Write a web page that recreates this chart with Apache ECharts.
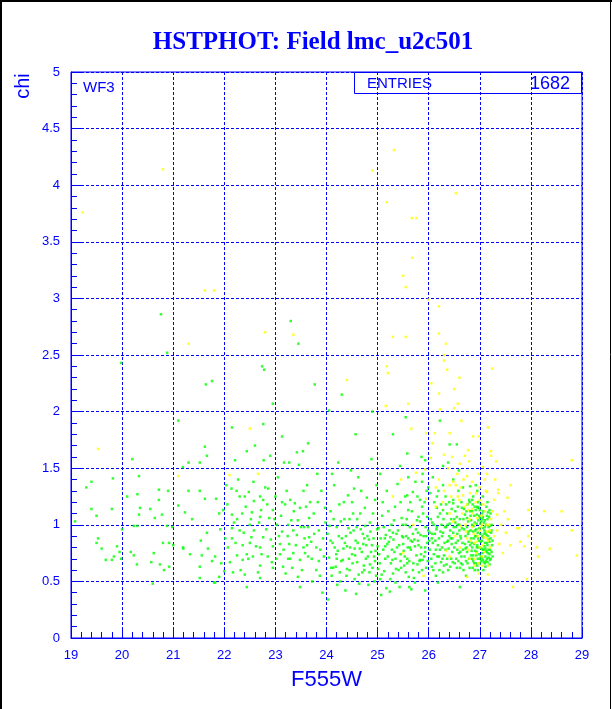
<!DOCTYPE html>
<html><head><meta charset="utf-8">
<script src="https://cdn.jsdelivr.net/npm/echarts@6/dist/echarts.min.js"></script>
<style>html,body{margin:0;padding:0;background:#fff;}#c{width:612px;height:709px;}</style>
</head><body><div id="c"></div>
<script>
// ---- data ----
const titleText = 'HSTPHOT: Field lmc_u2c501';
const xName = 'F555W';
const yName = 'chi';
const chipLabel = 'WF3';
const statsLabel = 'ENTRIES';
const statsValue = '1682';

const greenA = [ // 19-22
[19.08,1.03],[19.3,1.33],[19.4,1.38],[19.4,1.14],[19.5,1.08],[19.53,0.88],[19.5,0.84],[19.6,0.79],[19.68,0.69],[19.8,0.69],[19.82,1.41],[19.8,1.14],[19.84,0.72],[19.9,0.81],[19.95,0.76],[19.98,0.7],[19.98,2.43],[20.0,0.96],[20.1,1.25],[20.17,0.76],[20.2,1.58],[20.23,0.99],[20.23,0.73],[20.29,0.65],[20.3,0.99],[20.3,1.27],[20.33,1.43],[20.33,1.09],[20.35,1.15],[20.55,1.14],[20.57,0.67],[20.6,0.48],[20.62,0.75],[20.64,1.06],[20.72,1.22],[20.72,1.31],[20.74,0.65],[20.76,2.86],[20.78,1.09],[20.8,0.84],[20.82,0.6],[20.88,2.52],[20.88,0.99],[20.9,1.3],[20.92,0.63],[20.92,0.84],[20.98,0.98],[21.0,0.82],[21.1,1.17],[21.1,1.92],[21.19,0.8],[21.19,1.51],[21.2,0.79],[21.23,1.11],[21.3,1.55],[21.3,1.3],[21.33,0.74],[21.37,1.05],[21.52,0.63],[21.52,1.55],[21.52,1.3],[21.52,0.53],[21.54,0.86],[21.56,0.73],[21.62,1.69],[21.62,1.23],[21.64,2.24],[21.66,1.61],[21.66,0.93],[21.68,0.79],[21.76,0.68],[21.76,2.27],[21.8,0.49],[21.82,0.72],[21.82,0.49],[21.84,1.23],[21.9,0.54],[21.9,1.1],[21.92,0.96],[21.94,0.66],[21.98,1.13]
];
const greenB = [ // 22-24
[22.0,0.59],[22.04,1.35],[22.07,0.8],[22.14,1.32],[22.15,1.86],[22.15,1.09],[22.15,0.88],[22.15,0.97],[22.17,0.58],[22.21,1.57],[22.24,1.3],[22.25,0.73],[22.3,1.25],[22.3,0.95],[22.35,1.1],[22.36,0.82],[22.36,0.69],[22.4,1.25],[22.4,0.56],[22.44,1.65],[22.44,0.74],[22.44,0.45],[22.48,1.29],[22.5,0.84],[22.52,1.05],[22.54,1.11],[22.56,0.72],[22.58,1.21],[22.6,1.7],[22.7,1.25],[22.7,1.07],[22.7,0.8],[22.7,0.64],[22.7,0.53],[22.72,1.13],[22.74,2.4],[22.76,1.89],[22.76,1.22],[22.76,0.89],[22.77,1.57],[22.78,2.37],[22.8,1.33],[22.86,1.32],[22.88,1.06],[22.9,1.61],[22.93,0.67],[22.95,2.07],[22.95,1.13],[22.95,0.81],[22.95,0.62],[23.09,0.83],[23.09,0.74],[23.13,1.78],[23.13,1.2],[23.13,0.94],[23.15,0.63],[23.17,1.55],[23.25,1.0],[23.27,1.55],[23.27,0.83],[23.29,1.22],[23.29,0.7],[23.3,2.8],[23.31,1.04],[23.35,0.95],[23.35,0.75],[23.38,1.19],[23.42,1.64],[23.42,0.91],[23.44,1.04],[23.44,0.54],[23.45,2.6],[23.46,1.53],[23.48,1.15],[23.48,0.69],[23.48,0.45],[23.54,1.65],[23.56,0.98],[23.58,0.75],[23.6,1.16],[23.64,1.72],[23.64,0.98],[23.64,0.72],[23.66,0.89],[23.68,1.2],[23.7,0.85],[23.72,0.5],[23.75,1.1],[23.77,2.24],[23.8,0.6],[23.82,1.45],[23.85,0.95],[23.88,0.78],[23.9,1.3],[23.92,0.4],[23.95,0.72],[23.98,1.02]
];
const greenE = [ // 22-24 extra
[22.02,0.88],[22.06,1.18],[22.11,0.67],[22.19,1.02],[22.22,0.84],[22.27,1.4],[22.32,0.6],[22.38,0.93],[22.42,1.16],[22.47,0.7],[22.53,0.89],[22.57,1.38],[22.62,0.81],[22.66,0.58],[22.68,1.02],[22.73,0.74],[22.82,0.96],[22.84,1.18],[22.91,0.87],[22.98,1.05],[23.02,0.7],[23.05,1.42],[23.07,0.9],[23.11,1.08],[23.16,0.78],[23.2,0.57],[23.22,1.3],[23.24,0.9],[23.33,0.62],[23.36,1.12],[23.4,0.82],[23.5,0.98],[23.52,0.6],[23.55,1.3],[23.62,0.82],[23.66,1.06],[23.71,0.7],[23.76,0.92],[23.83,1.2],[23.87,0.55],[23.93,0.88],[23.97,1.15],[23.03,1.0],[23.19,1.18],[23.57,0.88],[22.58,0.95],[22.25,1.05],[23.8,0.8],[23.62,1.35],[23.0,1.25]
];
const greenC = [ // 24-26
[24.02,0.92],[24.05,0.71],[24.05,2.01],[24.08,1.12],[24.1,0.55],[24.12,0.84],[24.15,1.35],[24.18,0.63],[24.2,0.98],[24.22,0.77],[24.25,1.18],[24.27,0.5],[24.3,0.88],[24.32,0.69],[24.35,1.05],[24.37,0.42],[24.4,0.81],[24.42,1.26],[24.45,0.6],[24.47,0.93],[24.5,0.74],[24.52,1.1],[24.55,0.52],[24.57,0.86],[24.6,0.67],[24.62,1.42],[24.65,0.79],[24.67,0.96],[24.7,0.58],[24.72,0.83],[24.75,1.15],[24.77,0.7],[24.8,0.9],[24.82,0.47],[24.85,1.02],[24.87,0.76],[24.9,0.62],[24.92,0.88],[24.95,1.22],[24.97,0.55],[25.0,0.81],[25.02,0.97],[25.04,0.66],[25.07,0.38],[25.09,1.08],[25.11,0.78],[25.13,0.59],[25.16,0.91],[25.18,1.3],[25.2,0.72],[25.22,0.85],[25.25,0.52],[25.27,1.0],[25.29,0.69],[25.31,0.87],[25.34,1.16],[25.36,0.61],[25.38,0.8],[25.4,0.95],[25.43,0.45],[25.45,0.74],[25.47,1.06],[25.5,0.83],[25.52,0.64],[25.54,1.25],[25.56,0.9],[25.58,0.7],[25.61,0.54],[25.63,0.98],[25.65,0.78],[25.67,1.12],[25.7,0.66],[25.72,0.87],[25.74,1.38],[25.76,0.73],[25.79,0.93],[25.81,0.58],[25.83,1.03],[25.85,0.8],[25.88,0.69],[25.9,0.9],[25.92,1.2],[25.95,0.62],[25.97,0.84],[24.03,0.34],[24.23,1.55],[24.48,1.48],[24.58,0.39],[24.88,1.58],[25.05,1.45],[25.24,0.41],[25.44,1.52],[25.66,0.43],[25.86,1.6],[24.13,0.62],[24.33,0.79],[24.53,0.95],[24.73,0.64],[24.93,0.72],[25.14,0.88],[25.33,0.76],[25.53,0.72],[25.73,0.81],[25.93,0.76],[24.08,0.86],[24.28,1.03],[24.63,0.56],[24.83,0.87],[25.01,0.61],[25.21,1.12],[25.41,0.6],[25.6,0.88],[25.8,1.07],[25.99,0.95],[24.44,0.7],[24.68,1.3],[25.12,0.98],[25.48,0.9],[25.82,0.68],[24.16,0.8],[24.4,0.61],[24.78,0.82],[25.26,0.66],[25.69,0.92],[24.57,1.8],[24.9,2.0],[25.3,1.8],[25.55,1.95],[24.3,2.15],
[25.58,1.63],[25.93,1.57],[25.5,0.89],[25.79,0.86],[25.93,0.8],[25.63,0.8],[25.83,0.69],[25.69,0.6],[25.58,0.66],[25.73,0.49],[25.93,0.42],[25.83,1.22],[25.69,1.29],[25.58,1.26],[25.87,1.16],[25.97,1.07],[25.77,1.04],[25.6,1.13],[25.99,1.33],[25.87,1.38],[25.6,1.42]
];
const greenF = [ // 24-26 extra
[24.06,0.99],[24.09,0.62],[24.14,1.05],[24.19,0.74],[24.21,0.47],[24.24,0.9],[24.29,0.68],[24.34,1.2],[24.36,0.84],[24.39,0.55],[24.43,0.97],[24.46,0.8],[24.51,0.66],[24.54,1.32],[24.56,0.73],[24.59,0.98],[24.61,0.84],[24.64,0.48],[24.66,1.1],[24.69,0.76],[24.71,0.92],[24.74,0.6],[24.76,0.99],[24.79,1.24],[24.81,0.72],[24.84,0.58],[24.86,0.94],[24.89,0.82],[24.91,1.1],[24.94,0.5],[24.96,0.77],[24.99,0.96],[25.03,0.74],[25.06,0.88],[25.08,0.56],[25.1,1.2],[25.15,0.7],[25.17,0.44],[25.19,0.83],[25.23,0.95],[25.28,0.78],[25.3,0.57],[25.32,1.04],[25.35,0.7],[25.37,0.92],[25.39,1.36],[25.42,0.82],[25.46,0.62],[25.49,1.0],[25.51,0.77],[25.55,0.58],[25.57,1.05],[25.59,0.8],[25.62,0.68],[25.64,1.2],[25.68,0.85],[25.71,0.53],[25.75,0.96],[25.78,0.65],[25.8,0.82],[25.84,0.91],[25.87,0.6],[25.89,1.1],[25.91,0.72],[25.94,0.98],[25.96,1.3],[25.98,0.68],[24.11,1.45],[24.5,1.2],[24.98,1.35],[25.45,1.2],[25.88,1.45],[24.26,0.58],[24.6,1.05],[25.05,0.52],[25.35,0.49],[25.62,0.45],[25.78,1.25]
];
const greenD = [ // 26-27.3
[26.41,1.71],[26.55,1.71],[26.22,1.92],[26.28,1.52],[26.38,1.55],[26.48,1.4],[26.59,1.48],[26.67,1.33],[26.81,1.34],[26.85,1.22],[26.9,1.16],[26.96,1.15],[27.04,1.1],[27.1,1.04],[27.16,1.11],[27.0,1.06],[26.94,1.01],[26.83,1.04],[26.71,1.09],[26.75,0.98],[26.87,0.94],[26.96,0.93],[27.06,0.89],[27.14,0.84],[27.06,0.78],[27.16,0.75],[27.04,0.71],[27.2,0.69],[27.1,0.66],[26.94,0.76],[26.85,0.8],[26.75,0.76],[26.57,0.86],[26.48,0.93],[26.38,0.86],[26.28,0.93],[26.16,0.98],[26.02,0.93],[26.08,0.84],[26.22,0.78],[26.36,0.7],[26.51,0.66],[26.61,0.62],[26.28,0.58],[26.06,0.63],[26.18,0.49],[26.61,0.45],[26.08,1.42],[26.16,1.25],[26.28,1.13],[26.18,1.07],[26.41,1.01],[26.57,1.0],[26.55,1.07],[26.65,1.15],[26.48,1.19],
[26.85,0.7],[26.88,0.88],[26.9,1.02],[26.92,0.66],[26.95,0.82],[26.97,1.2],[26.99,0.74],[27.01,0.92],[27.03,0.68],[27.05,1.05],[27.07,0.78],[27.09,0.95],[27.11,0.72],[27.13,1.16],[27.15,0.82],[27.17,0.98],[27.19,0.65],[27.21,0.88],[27.23,0.76],[26.82,0.95],[26.86,1.18],[26.91,0.77],[26.94,1.09],[26.98,0.86],[27.02,0.72],[27.06,0.97],[27.1,0.84],[27.14,0.7],[27.18,1.07],[27.22,0.93],[26.8,0.62],[26.84,0.84],[26.87,1.25],[26.93,0.9],[26.96,0.7],[27.0,1.13],[27.04,0.86],[27.08,0.67],[27.12,1.0],[27.16,0.9],[27.2,0.78],[26.7,0.72],[26.72,0.9],[26.74,1.12],[26.76,0.66],[26.78,0.85],[26.6,0.95],[26.62,0.76],[26.64,1.2],[26.66,0.84],[26.68,0.6],[26.5,0.8],[26.52,1.12],[26.54,0.7],[26.56,0.92],[26.58,1.3],[26.4,0.9],[26.42,0.63],[26.44,1.05],[26.46,0.76],[26.48,1.22],[26.3,0.73],[26.32,0.98],[26.34,1.18],[26.36,0.85],[26.38,0.6],[26.2,0.88],[26.22,1.1],[26.24,0.67],[26.26,0.8],[26.28,1.35],[26.1,0.74],[26.12,0.92],[26.14,0.55],[26.16,1.15],[26.18,0.82],[26.01,0.86],[26.03,1.28],[26.05,0.7],[26.07,1.02],[26.09,0.6],
[26.89,0.83],[26.93,0.96],[27.0,0.8],[27.08,1.02],[27.13,0.76],[27.19,0.85],[26.83,0.73],[26.97,1.04],[27.05,0.9],[27.11,0.93],[27.17,0.71],[27.24,0.82],[26.77,1.03],[26.69,0.96],[26.63,0.88],[26.53,0.98],[26.45,0.83],[26.33,0.78],[26.25,1.0],[26.13,0.86],[27.02,1.18],[26.9,0.6],[27.15,1.2],[27.07,0.6],[26.79,1.22],[26.95,1.3],[26.73,0.55],[27.25,0.72]
];
const greenG = [ // 26-27.3 extra
[26.02,0.78],[26.04,1.05],[26.06,0.88],[26.11,1.2],[26.13,0.66],[26.15,0.96],[26.17,0.72],[26.19,1.3],[26.21,0.6],[26.23,0.94],[26.27,0.7],[26.29,1.05],[26.31,0.84],[26.33,1.25],[26.35,0.65],[26.37,1.0],[26.39,0.79],[26.43,0.88],[26.45,1.14],[26.47,0.67],[26.49,0.98],[26.53,0.84],[26.55,0.62],[26.57,1.16],[26.59,0.75],[26.61,1.05],[26.63,0.66],[26.65,0.97],[26.67,0.78],[26.69,1.14],[26.71,0.83],[26.73,0.68],[26.75,1.06],[26.77,0.92],[26.79,0.7],[26.81,1.12],[26.83,0.88],[26.85,1.0],[26.87,0.68],[26.89,1.08],[26.91,0.9],[26.93,0.73],[26.95,1.16],[26.97,0.8],[26.99,0.97],[27.01,0.7],[27.03,1.03],[27.05,0.75],[27.07,1.12],[27.09,0.81],[27.11,0.63],[27.13,0.91],[27.15,1.05],[27.17,0.78],[27.19,1.13],[27.21,0.7],[27.23,0.95],[27.25,0.86],[26.86,0.62],[26.96,0.6],[27.06,1.25],[26.92,1.35],[27.0,0.66],[27.12,0.77],[27.18,0.94],[26.8,1.2],[26.74,0.8],[26.62,0.9],[26.5,1.05],[26.4,1.2],[26.26,0.9],[26.1,1.0],[26.2,0.72],[26.34,0.98],[26.46,0.88],[26.58,0.68]
];
const greenH = [ // 26.4-27.3 core, more
[26.84,0.77],[26.88,0.99],[26.92,1.13],[26.97,0.88],[27.01,1.01],[27.06,0.69],[27.1,0.98],[27.14,1.08],[27.19,0.74],[27.23,1.0],[26.82,1.08],[26.87,0.73],[26.91,0.95],[26.95,0.64],[26.99,1.08],[27.03,0.79],[27.08,0.92],[27.12,0.68],[27.17,0.87],[27.21,1.1],[26.81,0.82],[26.85,1.12],[26.89,0.66],[26.94,0.8],[26.98,1.15],[27.02,0.85],[27.06,1.07],[27.11,0.79],[27.15,0.67],[27.2,0.99],[26.6,1.0],[26.64,0.72],[26.68,1.05],[26.72,0.79],[26.76,1.18],[26.78,0.94],[26.66,0.65],[26.56,0.78],[26.52,1.02],[26.44,0.7],[26.42,0.95],[26.36,1.1],[26.3,0.64],[26.24,1.18],[26.14,0.78],[26.07,0.92],[24.2,0.7],[24.38,0.9],[24.55,0.79],[24.74,0.88],[24.95,0.68],[25.15,0.81],[25.3,0.93],[25.45,0.68],[25.65,0.86],[25.85,0.74],[24.45,1.05],[24.85,0.65],[25.25,0.89],[25.55,1.0],[25.95,0.9],[23.25,0.7],[23.55,0.8],[23.85,0.68],[22.85,0.72],[22.5,1.0]
];
const yellowPts = [
[19.23,3.76],[19.53,1.67],[20.8,4.14],[21.1,1.43],[21.3,2.6],[21.62,3.07],[21.8,3.07],[22.1,1.44],[22.5,1.85],[22.66,1.45],[22.8,2.7],[23.35,2.68],[24.4,2.28],[24.9,4.13],[25.32,4.31],[25.18,3.85],[25.67,3.71],[25.76,3.71],[26.53,3.93],[25.68,3.36],[25.5,3.2],[25.55,3.1],[26.0,2.99],[26.2,2.93],[25.3,2.66],[25.55,2.66],[26.34,2.6],[26.3,2.5],[26.3,2.45],[25.18,2.4],[25.2,2.34],[27.24,2.38],[26.36,2.37],[26.6,2.3],[26.05,2.25],[26.5,2.2],[26.2,2.16],[26.64,1.92],[26.5,2.03],[25.16,2.05],[26.2,2.69],
[28.8,1.57],[28.6,1.12],[28.26,1.12],[28.8,0.95],[28.9,0.73],[27.92,0.52],[27.65,0.45],[28.12,0.8],[28.37,0.79],[28.14,0.72],[27.87,0.81],[27.79,0.85],[27.95,0.9],[27.73,0.97],[27.77,0.97],[27.6,1.35],[27.54,1.24],[27.48,1.12],[27.95,1.13],[27.34,0.95],[27.38,0.83],[27.51,0.93],[27.6,0.82],[27.34,1.09],[27.36,1.28],[27.32,1.56],[27.16,1.86],[27.22,1.65],[27.22,1.61],[26.98,1.78],[26.87,1.78],[26.77,1.66],[26.79,1.56],[26.71,1.61],[27.14,1.45],[27.06,1.51],[27.0,1.33],[26.93,1.28],[26.75,1.43],[26.61,1.54],[26.41,1.81],[26.22,2.02],[26.12,1.81],[26.08,1.72],[25.95,1.81],[25.66,1.85],[26.04,1.59],[26.3,1.62],[26.38,1.5],[26.48,1.38],[26.53,1.35],[26.63,1.33],[26.57,1.25],[26.67,1.26],[26.81,1.28],[26.75,1.18],[26.85,1.14],[26.77,1.13],[27.0,1.22],[27.14,1.29],[27.36,1.31],[27.28,1.22],[26.14,1.33],[25.95,1.23],[26.14,1.16],[25.75,1.46],[25.93,1.49],[25.46,1.4],[26.41,1.35],[26.28,1.2],[26.41,1.1],[26.48,1.03],[26.63,0.99],[26.73,0.94],[26.85,0.98],[27.04,1.0],[27.14,1.0],[27.2,0.95],[27.08,0.89],[27.16,0.86],[27.2,0.8],[27.0,0.8],[26.9,0.84],[26.94,0.75],[26.77,0.78],[26.61,0.8],[26.41,0.72],[26.34,0.77],[26.75,0.54],[26.98,0.57],[27.16,0.56],[27.04,0.64],[26.9,0.64],[25.6,2.07],[26.57,2.07],
[26.88,0.92],[26.95,1.06],[27.02,0.98],[27.1,1.12],[26.92,1.2],[27.05,0.82],[26.8,1.05],[26.98,0.66],[27.15,0.94],[26.7,1.16],[26.6,1.22],[26.9,0.7],[27.12,1.3],[26.85,1.38],[26.75,0.88],[25.5,0.75],[25.7,1.0],[25.3,1.25],[25.9,0.55]
];
const yellowB = [
[26.82,0.86],[26.9,1.0],[26.96,0.9],[27.03,1.08],[27.09,0.76],[27.18,1.0],[26.86,1.1],[26.94,0.85],[27.0,0.95],[27.07,1.18],[27.13,0.88],[27.22,1.05],[26.72,1.0],[26.66,1.1],[26.56,1.45],[26.46,1.6],[26.68,1.4],[26.98,1.45],[27.1,1.4],[27.25,1.12],[27.28,0.9],[26.8,0.7],[27.04,0.72],[27.17,0.64],[26.52,0.9],[26.3,1.3],[26.2,1.4],[26.44,1.25],[27.3,1.4],[27.42,1.0],[27.45,0.75],[27.55,1.05]
];

// ---- chart ----
const BLUE = '#0000ff';
const FONT = 'Liberation Sans, Arial, sans-serif';
const chart = echarts.init(document.getElementById('c'), null, {renderer:'canvas'});
const axisCommon = {
  type:'value',
  axisLine:{show:true, onZero:false, lineStyle:{color:BLUE, width:1}},
  axisTick:{show:true, inside:true, length:10, lineStyle:{color:BLUE, width:1}},
  minorTick:{show:true, splitNumber:5, length:6, lineStyle:{color:BLUE, width:1}},
  splitLine:{show:true, lineStyle:{color:BLUE, width:1, type:[3,2]}},
  axisLabel:{color:BLUE, fontSize:13, fontFamily:FONT}
};
chart.setOption({
  animation:false,
  backgroundColor:'#ffffff',
  grid:{left:71, top:72, width:511, height:566, show:true, borderColor:BLUE, borderWidth:1, backgroundColor:'transparent', containLabel:false},
  xAxis:Object.assign({}, axisCommon, {
    min:19, max:29, interval:1,
    axisLabel:Object.assign({}, axisCommon.axisLabel, {margin:11}),
    name:xName, nameLocation:'middle', nameGap:31,
    nameTextStyle:{color:BLUE, fontSize:22, fontFamily:FONT}
  }),
  yAxis:Object.assign({}, axisCommon, {
    min:0, max:5, interval:0.5,
    axisLabel:Object.assign({}, axisCommon.axisLabel, {margin:11})
  }),
  series:[
    {type:'scatter', name:'green', symbol:'rect', symbolSize:2.5, itemStyle:{color:'#00ff00'}, data:[].concat(greenA, greenB, greenE, greenC, greenF, greenD, greenG, greenH), z:3},
    {type:'scatter', name:'yellow', symbol:'rect', symbolSize:2.5, itemStyle:{color:'#ffff00'}, data:[].concat(yellowPts, yellowB), z:4}
  ],
  graphic:[
    {type:'line', shape:{x1:1, y1:0, x2:1, y2:709}, style:{stroke:'#000', lineWidth:2}},
    {type:'line', shape:{x1:0, y1:1, x2:612, y2:1}, style:{stroke:'#000', lineWidth:2}},
    {type:'line', shape:{x1:610.5, y1:0, x2:610.5, y2:709}, style:{stroke:'#000', lineWidth:1}},
    {type:'text', x:313, y:43, style:{text:titleText, fill:BLUE, font:'bold 25px "Liberation Serif", "Times New Roman", serif', textAlign:'center', textVerticalAlign:'middle'}},
    {type:'text', x:23, y:86, rotation:Math.PI/2, style:{text:yName, fill:BLUE, font:'20px '+FONT, textAlign:'center', textVerticalAlign:'middle'}},
    {type:'text', x:83, y:88, style:{text:chipLabel, fill:BLUE, font:'15px '+FONT, textVerticalAlign:'middle'}},
    {type:'rect', shape:{x:354.5, y:72.5, width:227, height:21}, style:{stroke:BLUE, fill:'none', lineWidth:1}, z:10},
    {type:'text', x:367, y:84, style:{text:statsLabel, fill:BLUE, font:'15px '+FONT, textVerticalAlign:'middle'}, z:10},
    {type:'text', x:570, y:84, style:{text:statsValue, fill:BLUE, font:'18px '+FONT, textAlign:'right', textVerticalAlign:'middle'}, z:10}
  ]
});
</script></body></html>
